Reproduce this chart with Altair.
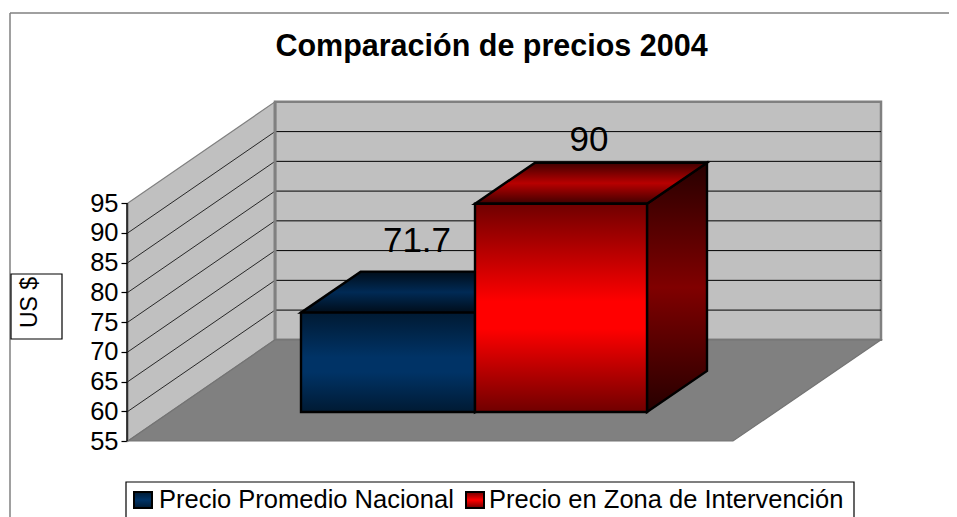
import altair as alt
import pandas as pd

TITLE = "Comparación de precios 2004"
Y_TITLE = "US $"
categories = ["Precio Promedio Nacional", "Precio en Zona de Intervención"]
values = [71.7, 90]
value_labels = ["71.7", "90"]
y_ticks = [55, 60, 65, 70, 75, 80, 85, 90, 95]
grid_values = [60, 65, 70, 75, 80, 85, 90]

FONT = "Liberation Sans"
W, H = 941, 509
PX = 5.95          # pixels per US$
BASE_PY = 441
DEPTH_X, DEPTH_V = 147, 17    # wall depth
BAR_SHIFT_V = 4.87            # bar front plane
BAR_DX, BAR_DV = 60, 6.9      # bar depth
BAR_EDGES = [(301, 475), (475, 647)]
LEFT, BACK, RIGHT = 128, 128 + DEPTH_X, 881
FRONT_RIGHT = RIGHT - DEPTH_X - 1
TOP = y_ticks[-1]


def yv(py):
    return 55 + (BASE_PY - py) / PX


def grad(*stops):
    return alt.Gradient(
        gradient="linear", x1=0, x2=0, y1=0, y2=1,
        stops=[alt.GradientStop(offset=o, color=c) for o, c in stops],
    )


xs = alt.Scale(domain=[8, 8 + W], range=[0, W], nice=False, zero=False)
ys = alt.Scale(domain=[yv(8 + H), yv(8)], range=[H, 0], nice=False, zero=False)
X = alt.X("x:Q", scale=xs, axis=None)
X2 = alt.X2("x2:Q")
Y = alt.Y("y:Q", scale=ys, title=None, axis=alt.Axis(
    values=y_ticks, offset=-(LEFT - 9), grid=False, domain=False,
    tickColor="black", tickSize=6, tickWidth=1.2,
    labelFont=FONT, labelFontSize=25.5, labelColor="black", labelPadding=3,
    labelOverlap=False, format="d",
))
Y2 = alt.Y2("y2:Q")


def df(**k):
    return pd.DataFrame(k)


def rect(x0, x1, y0, y1, **mk):
    return alt.Chart(df(x=[x0], x2=[x1], y=[y0], y2=[y1])).mark_rect(clip=True, **mk).encode(x=X, x2=X2, y=Y, y2=Y2)


def vside(x0, x1, top0, top1, bot0, bot1, **mk):
    """Face with vertical edges at x0 and x1."""
    d = df(x=[x0, x1], y=[top0, top1], y2=[bot0, bot1])
    return alt.Chart(d).mark_area(orient="vertical", **mk).encode(x=X, y=Y, y2=Y2)


def hside(v0, v1, x0a, x0b, x1a, x1b, **mk):
    """Face with horizontal edges at values v0 and v1."""
    d = df(y=[v0, v1], x=[x0a, x1a], x2=[x0b, x1b])
    return alt.Chart(d).mark_area(orient="horizontal", **mk).encode(y=Y, x=X, x2=X2)


def hline(x0, x1, v, color="black", width=1.0):
    return alt.Chart(df(x=[x0], x2=[x1], y=[v])).mark_rule(color=color, strokeWidth=width, clip=True).encode(x=X, x2=X2, y=Y)


def vline(x0, v0, v1, color="black", width=1.0):
    return alt.Chart(df(x=[x0], y=[v0], y2=[v1])).mark_rule(color=color, strokeWidth=width, clip=True).encode(x=X, y=Y, y2=Y2)


def text(label, x, py, size, **mk):
    return alt.Chart(df(x=[x], y=[yv(py)], t=[label])).mark_text(
        font=FONT, fontSize=size, color="black", **mk
    ).encode(x=X, y=Y, text="t:N")


layers = []

# frame
layers.append(hline(10, 8 + W, yv(13), "#808080", 1.5))
layers.append(vline(10, yv(13), yv(8 + H), "#808080", 1.5))

# walls and floor
layers.append(vside(BACK, RIGHT, TOP + DEPTH_V, TOP + DEPTH_V, 55 + DEPTH_V, 55 + DEPTH_V,
                    color="#c0c0c0", stroke="#808080", strokeWidth=2.5))
layers.append(vside(LEFT, BACK, TOP, TOP + DEPTH_V, 55, 55 + DEPTH_V,
                    color="#c0c0c0", stroke="#808080", strokeWidth=1.2))
for g in grid_values:
    layers.append(hline(BACK, RIGHT, g + DEPTH_V, "#000000", 1.0))
    d = df(x=[LEFT, BACK], y=[g, g + DEPTH_V])
    layers.append(alt.Chart(d).mark_line(color="#000000", strokeWidth=0.8).encode(x=X, y=Y))
layers.append(vline(BACK, 55 + DEPTH_V, TOP + DEPTH_V, "#808080", 3))
layers.append(hside(55, 55 + DEPTH_V, LEFT, FRONT_RIGHT, BACK, RIGHT,
                    color="#808080", stroke="#747474", strokeWidth=1.2))
layers.append(vline(LEFT - 1, 55, TOP, "#000000", 1.5))

# bars
styles = [
    dict(front=grad((0, "#001a33"), (0.45, "#003366"), (0.6, "#003366"), (1, "#001a33")),
         top=grad((0, "#000d1a"), (0.5, "#002a55"), (1, "#000d1a")),
         side=grad((0, "#000d1a"), (0.5, "#002040"), (1, "#000d1a"))),
    dict(front=grad((0, "#700000"), (0.47, "#ff0000"), (0.6, "#ff0000"), (1, "#700000")),
         top=grad((0, "#400000"), (0.5, "#b80000"), (1, "#400000")),
         side=grad((0, "#260000"), (0.5, "#800000"), (1, "#260000"))),
]
for (x0, x1), v, st in zip(BAR_EDGES, values, styles):
    f_top, f_bot = v + BAR_SHIFT_V, 55 + BAR_SHIFT_V
    b_top, b_bot = f_top + BAR_DV, f_bot + BAR_DV
    edge = dict(stroke="#000000", strokeWidth=2.4, strokeJoin="miter")
    layers.append(vside(x1, x1 + BAR_DX, f_top, b_top, f_bot, b_bot, color=st["side"], **edge))
    layers.append(hside(f_top, b_top, x0, x1, x0 + BAR_DX, x1 + BAR_DX, color=st["top"], **edge))
    layers.append(rect(x0, x1, f_top, f_bot, color=st["front"], **edge))

# value labels
layers.append(text(value_labels[0], 417, 252, 35, align="center", baseline="alphabetic"))
layers.append(text(value_labels[1], 589, 151, 35, align="center", baseline="alphabetic"))

# y axis title box
layers.append(rect(11, 62, yv(274), yv(339), fill="white", stroke="black", strokeWidth=1.2))
layers.append(alt.Chart(df(x=[30], y=[yv(302.5)], t=[Y_TITLE])).mark_text(
    font=FONT, fontSize=23, angle=270, color="black", align="center", baseline="middle"
).encode(x=X, y=Y, text="t:N"))

# legend
layers.append(rect(126, 854, yv(482), yv(530), fill="white", stroke="black", strokeWidth=1.2))
layers.append(rect(134, 152, yv(492), yv(508), color=grad((0, "#001a33"), (0.5, "#003366"), (1, "#001a33")),
                   stroke="black", strokeWidth=2))
layers.append(rect(466, 484, yv(492), yv(508), color=grad((0, "#700000"), (0.5, "#ff0000"), (1, "#700000")),
                   stroke="black", strokeWidth=2))
layers.append(text(categories[0], 159, 508, 25.5, align="left", baseline="alphabetic"))
layers.append(text(categories[1], 489, 508, 25.5, align="left", baseline="alphabetic"))

chart = alt.layer(*layers).properties(
    width=W, height=H, padding=0,
    autosize=alt.AutoSizeParams(type="none"),
    title=alt.TitleParams(TITLE, font=FONT, fontSize=30.5, fontWeight="bold", color="black",
                          anchor="middle", dx=13, dy=58),
    background="white",
).configure_view(stroke=None)

chart.save("out.html", embed_options={"renderer": "svg", "actions": False})
